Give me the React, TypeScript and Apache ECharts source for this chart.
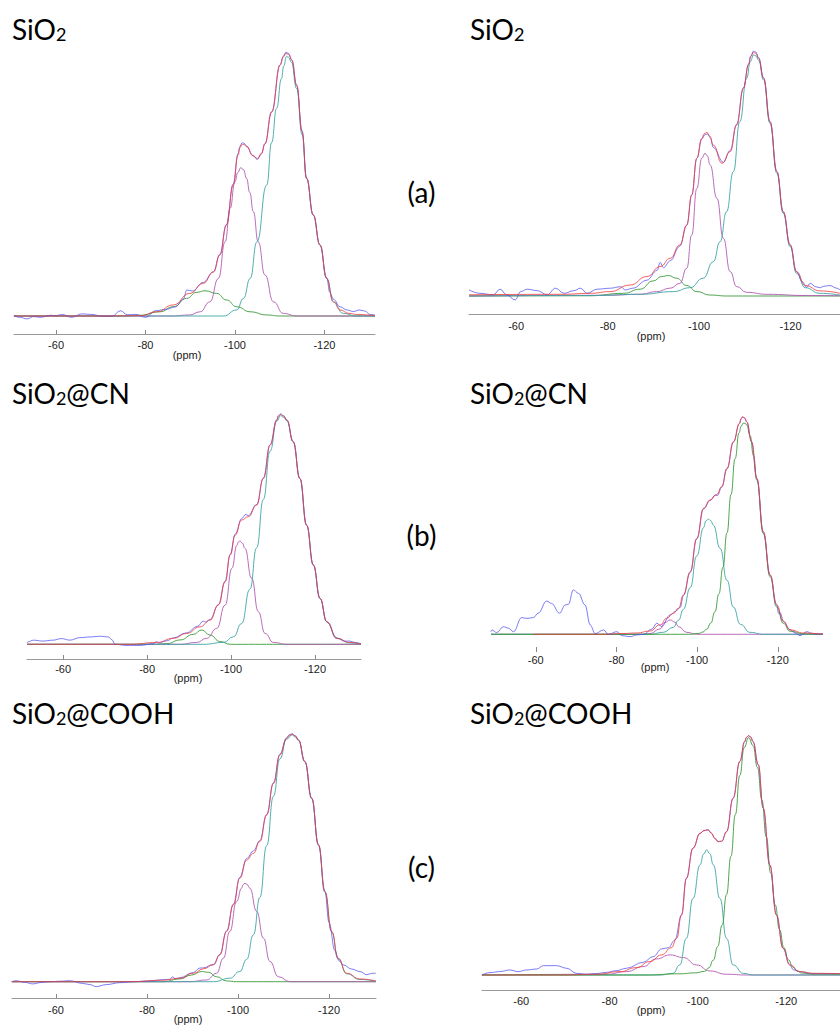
import React, { useEffect, useRef } from "react";
import * as echarts from "echarts";

const ppmTicks = [-60, -80, -100, -120];
const panelTitles = ["SiO₂", "SiO₂", "SiO₂@CN", "SiO₂@CN", "SiO₂@COOH", "SiO₂@COOH"];
const rowLabels = ["(a)", "(b)", "(c)"];
const axisName = "(ppm)";

// ---- Panel 1 (top left) ----
const p1Blue = [[-50.5,0.1],[-52,-0.5],[-53.5,-1.1],[-55,-0.2],[-56.5,-0.5],[-58.8,0.3],[-60,0.1],[-61.3,0.6],[-63.5,-0.5],[-65.7,0.8],[-68,0.6],[-70.3,-0.1],[-72.5,-0.1],[-74.4,2.0],[-75.9,0.5],[-77.8,0.6],[-80,-0.5],[-82.3,2.0],[-84.5,2.5],[-86.7,3.5],[-88.5,6.5],[-89.2,9.9],[-90.5,9.5],[-92.9,12.8],[-95.2,16.8],[-96.6,23.4],[-98.1,34.8],[-99.6,50.2],[-100.7,61.8],[-101.1,64.5],[-101.6,65.9],[-102.1,65.6],[-102.6,64.6],[-104.0,61.0],[-105.0,59.5],[-105.9,61.6],[-106.7,65.4],[-108.2,77.5],[-110.1,95.6],[-110.8,98.8],[-111.4,100.3],[-112.0,99.8],[-112.7,97.4],[-113.8,87.6],[-115.0,70.5],[-116.0,52.5],[-117.5,38.4],[-119.0,27.0],[-120.5,14.6],[-121.2,9.0],[-122.0,6.4],[-123.5,3.5],[-125,2.3],[-126.5,1.7],[-127.8,2.3],[-129,1.9],[-130.2,0.6],[-131.3,0.3]];
const p1Fit = [[-50.6,0],[-70,0],[-78.8,0.1],[-82.5,1.6],[-86.2,4.2],[-89.9,8.6],[-92.9,12.4],[-95.2,16.8],[-96.6,23.2],[-98.1,34.6],[-99.6,49.8],[-100.7,61.2],[-101.1,64.0],[-101.6,65.3],[-102.1,65.1],[-102.6,64.4],[-104.0,61.0],[-105.0,59.9],[-105.9,61.8],[-106.7,65.6],[-108.2,77.7],[-110.1,95.4],[-110.8,98.5],[-111.4,99.8],[-112.0,99.5],[-112.7,97.3],[-113.8,87.8],[-115.0,70.0],[-116.0,52.3],[-117.5,38.4],[-119.0,27.0],[-120.5,14.3],[-122.0,5.4],[-123.5,2.3],[-125.5,1.0],[-127.2,0.6],[-131.3,0.1]];
const p1Q2 = [[-50.6,0],[-75,0],[-78.8,0.3],[-83.2,1.6],[-86.2,3.5],[-89.2,6.7],[-91.4,9.0],[-93.3,9.6],[-95.9,8.6],[-98.1,6.1],[-100.4,3.5],[-103.4,1.6],[-107.1,0.4],[-110.1,0],[-131.3,0]];
const p1Q3 = [[-50.6,0],[-86,0],[-89.9,0.4],[-92.2,1.6],[-94.4,5.4],[-96.3,14.3],[-97.8,28.2],[-98.9,40.9],[-100.0,51.0],[-100.6,54.5],[-101.3,56.4],[-101.9,55.6],[-102.6,52.3],[-103.3,47.0],[-104.1,39.7],[-105.2,28.2],[-106.7,15.6],[-108.6,5.4],[-110.8,1.0],[-113.8,0],[-131.3,0]];
const p1Q4 = [[-50.6,0],[-97.4,0],[-100.4,2.3],[-101.9,6.7],[-103.4,14.3],[-104.9,28.2],[-107.1,49.8],[-108.2,66],[-109.3,79],[-110.4,90.3],[-110.9,95.0],[-111.5,98.6],[-112.0,98.4],[-112.6,96.5],[-113.8,86.5],[-115.0,69.0],[-116.0,52.3],[-117.5,38.4],[-119.0,27.0],[-120.5,14.3],[-122.0,5.4],[-124.2,1.0],[-127.2,0],[-131.3,0]];

// ---- Panel 2 (top right) ----
const p2Blue = [[-49.7,2.5],[-52.1,1.1],[-55.0,0.5],[-56.5,2.8],[-57.9,0.5],[-59.8,-1.6],[-61.0,1.8],[-62.4,2.8],[-64.6,2.2],[-66.8,0.5],[-68.6,3.2],[-70.5,1.1],[-72.6,2.2],[-74.1,3.2],[-75.5,1.1],[-77.7,2.8],[-80.6,3.2],[-82.8,3.8],[-83.9,2.5],[-85.5,3.2],[-88.6,6.5],[-90.8,10.5],[-91.5,13.8],[-92.2,11.6],[-93.7,14.5],[-95.8,20.5],[-97.3,29.0],[-98.4,41.5],[-99.5,56.5],[-100.6,64.5],[-101.3,66.3],[-101.9,66.5],[-102.5,64.8],[-103.1,61.0],[-105.3,54.9],[-106.8,59.8],[-108.2,70.5],[-109.7,85.5],[-110.8,95.2],[-111.3,98.6],[-111.9,100.6],[-112.4,100.2],[-113.0,98.0],[-114.1,89.6],[-115.5,71.6],[-117.0,51.1],[-118.4,34.6],[-119.9,21.0],[-121.3,10.0],[-122.5,6.0],[-123.5,3.6],[-124.3,5.2],[-125.5,3.8],[-126.5,3.4],[-127.2,4.0],[-128.6,4.3],[-130.1,3.2],[-130.8,2.5]];
const p2Fit = [[-49.7,0.5],[-70,0.7],[-76.2,1.1],[-80.5,1.8],[-84.9,4.5],[-88.6,8.0],[-91.5,12.1],[-93.7,15.5],[-95.8,21.0],[-97.3,29.2],[-98.4,41.5],[-99.5,56.6],[-100.6,64.8],[-101.1,66.6],[-101.7,67.2],[-102.3,65.7],[-103.1,62.0],[-105.0,54.5],[-106.8,59.3],[-108.2,70.2],[-109.7,85.3],[-110.8,94.9],[-111.3,98.3],[-111.9,100.1],[-112.4,99.6],[-113.0,97.6],[-114.1,89.4],[-115.5,71.6],[-117.0,51.1],[-118.4,34.6],[-119.9,21.0],[-121.3,10.0],[-123.2,4.3],[-126.4,2.1],[-130.8,1.1]];
const p2Q2 = [[-49.7,0],[-76,0.1],[-83.5,1.1],[-87.1,2.8],[-90.0,6.2],[-91.8,8.0],[-93.3,8.4],[-95.1,7.3],[-97.3,4.3],[-99.5,1.8],[-102.4,0.4],[-106,0],[-130.8,0]];
const p2Q3 = [[-49.7,0],[-80,0.3],[-87.1,0.7],[-90.7,1.8],[-93.7,3.2],[-95.8,5.2],[-97.3,11.4],[-98.4,25.1],[-99.5,44.2],[-100.6,56.6],[-101.3,58.6],[-101.8,57.6],[-102.4,53.8],[-103.9,40.1],[-105.3,23.7],[-106.8,10.0],[-108.2,3.9],[-110.4,1.5],[-114.8,0.7],[-123.5,0.2],[-130.8,0.1]];
const p2Q4 = [[-49.7,0],[-76.2,0.2],[-87.1,0.7],[-94.4,1.8],[-98.0,3.4],[-100.9,7.3],[-103.1,14.1],[-104.6,22.3],[-106.0,34.6],[-107.5,51.1],[-108.9,71.6],[-110.4,89.4],[-111.2,96.3],[-111.9,99.0],[-112.4,98.6],[-113.0,96.9],[-114.1,88.7],[-115.5,70.9],[-117.0,50.4],[-118.4,33.9],[-119.9,20.3],[-121.3,9.3],[-123.2,3.4],[-126.4,1.1],[-130.8,0.4]];

// ---- Panel 3 (middle left) ----
const p3Blue = [[-51.4,0.6],[-51.7,1.1],[-52.9,1.8],[-55.2,1.4],[-57.6,1.8],[-59.6,2.5],[-61.6,1.8],[-64.0,2.9],[-66.4,3.2],[-68.8,3.5],[-70.8,3.2],[-71.6,2.0],[-72.4,0],[-75.2,-0.5],[-78.3,-0.5],[-81.5,0.3],[-82.3,1.2],[-82.7,0.6],[-84.7,1.5],[-86.3,2.8],[-89.4,5.0],[-92.0,7.8],[-93.4,10.1],[-94.0,9.6],[-95.0,10.8],[-97.0,17.3],[-98.6,27.5],[-99.8,39.2],[-101.0,48.0],[-102.5,54.6],[-103.5,56.5],[-104.1,55.9],[-106.1,60.8],[-107.7,72.3],[-109.3,86.8],[-110.9,97.6],[-111.3,99.4],[-111.8,100.2],[-112.5,99.4],[-113.3,97.6],[-114.8,88.1],[-116.4,72.1],[-118.0,51.8],[-119.6,34.5],[-121.2,20.0],[-122.8,9.8],[-125.2,2.8],[-127.0,1.4],[-128.3,1.4],[-129.5,0.8],[-130.95,0.2]];
const p3Fit = [[-51.4,0],[-76,0],[-82.3,0.8],[-86.3,2.6],[-89.4,4.7],[-92.6,7.6],[-95.0,10.5],[-97.0,17.1],[-98.6,27.2],[-99.8,38.8],[-101.0,47.5],[-102.5,54.0],[-104.1,55.5],[-106.1,60.5],[-107.7,72.1],[-109.3,86.6],[-110.9,97.5],[-111.3,99.3],[-111.8,99.9],[-112.5,99.2],[-113.3,97.5],[-114.8,88.1],[-116.4,72.1],[-118.0,51.8],[-119.6,34.5],[-121.2,20.0],[-122.8,9.8],[-125.2,2.6],[-128.3,0.8],[-130.95,0]];
const p3Q2 = [[-51.4,0],[-82,0],[-84.7,0.3],[-87.9,1.9],[-91.0,4.3],[-93.0,6.2],[-95.0,4.0],[-97.4,1.2],[-99.8,0],[-130.95,0]];
const p3Q3 = [[-51.4,0],[-87.9,0],[-91.8,0.8],[-94.2,2.6],[-96.6,6.9],[-98.6,17.1],[-100.2,33.0],[-101.4,43.1],[-101.7,44.4],[-102.1,44.9],[-102.7,44.0],[-103.3,41.7],[-104.9,28.7],[-106.5,14.2],[-108.1,4.7],[-110.1,0.8],[-113.3,0],[-130.95,0]];
const p3Q4 = [[-51.4,0],[-93.4,0],[-98.2,0.8],[-100.6,3.3],[-102.5,9],[-104.5,24],[-106.1,42],[-107.7,63],[-109.3,84],[-110.9,97],[-111.8,99.4],[-112.5,98.7],[-113.3,97.2],[-114.8,88.0],[-116.4,72.0],[-118.0,51.7],[-119.6,34.4],[-121.2,19.9],[-122.8,9.7],[-125.2,2.5],[-128.3,0.6],[-130.95,0]];

// ---- Panel 4 (middle right) ----
const p4Blue = [[-48.9,1.2],[-49.1,2.0],[-50.3,0.8],[-52.0,3.5],[-53.2,2.8],[-54.5,1.2],[-56.5,7.7],[-57.8,7.3],[-59.4,7.7],[-60.6,9.7],[-62.7,15.3],[-63.9,14.2],[-65.9,9.7],[-67.3,13.5],[-68.1,13.8],[-69.3,20.4],[-70.6,18.8],[-72.2,13.5],[-73.5,4.3],[-74.7,0.3],[-76.8,2.0],[-78.0,0],[-80.1,1.2],[-81.3,-0.6],[-83.4,-1.1],[-85.0,-0.3],[-86.7,0],[-88.8,2.4],[-90.0,5.1],[-91.2,3.6],[-93.3,8.9],[-94.5,10.4],[-95.8,12.3],[-96.6,17.8],[-98.3,28.5],[-99.9,43.8],[-101.6,57.6],[-103.2,61.5],[-104.5,64.0],[-105.0,63.7],[-106.1,67.6],[-107.4,76.0],[-109.0,88.3],[-110.5,96.8],[-110.9,99.0],[-111.3,99.8],[-111.8,99.3],[-112.3,97.6],[-113.5,88.4],[-114.8,71.6],[-116.4,47.0],[-118.1,27.2],[-119.7,13.8],[-120.2,9.5],[-120.6,9.8],[-121.4,6.0],[-123.0,2.2],[-124.3,0.6],[-125.5,-0.6],[-127.2,1.2],[-128.5,0.4],[-129.7,0],[-131.2,0.3]];
const p4Fit = [[-59.4,0],[-76.8,0],[-80.9,0.3],[-85.0,0.6],[-88.3,1.5],[-90.8,4.3],[-92.5,7.4],[-94.1,9.6],[-95.4,12.0],[-96.6,18.1],[-98.3,28.8],[-99.9,44.1],[-101.6,57.9],[-103.2,61.7],[-104.9,64.3],[-106.1,67.9],[-107.4,76.3],[-109.0,88.5],[-110.5,97.0],[-110.9,99.2],[-111.3,100],[-111.8,99.4],[-112.3,97.7],[-113.5,88.5],[-114.8,71.7],[-116.4,47.2],[-118.1,27.3],[-119.7,13.5],[-121.4,5.8],[-123.0,2.0],[-126.4,0.6],[-131.2,0]];
const p4Q2 = [[-48.9,0],[-86,0],[-88.3,0.3],[-90.8,2.5],[-92.0,5.4],[-93.3,6.6],[-94.5,5.6],[-95.4,3.5],[-97.4,0.9],[-99.9,0],[-131.2,0]];
const p4Q3 = [[-48.9,0],[-88.3,0],[-91.6,0.9],[-94.1,3.2],[-95.4,6.5],[-96.6,11.5],[-98.3,21.5],[-99.9,36],[-101.6,49],[-102.2,52.2],[-102.8,52.9],[-103.4,52.2],[-104.0,50.2],[-105.7,39.5],[-107.4,24.8],[-109.0,12.5],[-110.7,4.6],[-113.1,0.9],[-116.4,0],[-131.2,0]];
const p4Q4 = [[-48.9,0],[-98,0],[-100.4,0.4],[-101.4,1.0],[-102.4,2.4],[-103.4,5.2],[-104.4,10.3],[-105.4,18.6],[-106.4,30.8],[-107.4,46.6],[-108.4,64.2],[-109.4,80.7],[-110.4,92.6],[-110.9,95.6],[-111.4,97],[-111.9,97.0],[-112.3,96.2],[-113.1,91.4],[-114.0,82],[-114.8,70.8],[-116.4,46.3],[-118.1,26.4],[-119.7,12.6],[-121.4,5.0],[-123.0,1.4],[-126.4,0.2],[-131.2,0]];

// ---- Panel 5 (bottom left) ----
const p5Blue = [[-50.3,0],[-51.3,0.4],[-53,-0.2],[-54.9,-0.9],[-56.8,-0.3],[-58.6,0],[-61,0.2],[-63.0,0.4],[-65.9,-0.7],[-67.5,-1.2],[-68.8,-2.0],[-71.0,-1.2],[-74.0,-0.4],[-76.9,0],[-80.5,0.3],[-83.5,0.8],[-85.0,1.0],[-85.6,1.9],[-86.3,1.2],[-87.2,1.6],[-90.2,3.7],[-91.6,5.5],[-92.4,5.6],[-94.6,7.0],[-96.0,11.0],[-97.5,20.6],[-99.0,31.4],[-100.4,42.2],[-101.9,49.8],[-103.4,52.9],[-104.8,57.0],[-106.3,67.6],[-107.8,80.4],[-109.2,91.9],[-110.7,98.6],[-111.3,99.8],[-111.9,100.2],[-112.6,99.4],[-113.3,97.8],[-114.7,89.0],[-116.2,74.2],[-117.7,55.3],[-119.1,36.6],[-120.0,24],[-121.3,12.5],[-122.2,8.5],[-123.1,6.8],[-125.0,5.1],[-126.8,4.1],[-128.3,2.8],[-129.4,3.4],[-130.3,3.4]];
const p5Fit = [[-50.3,0],[-76.3,0],[-83.6,0.6],[-87.2,1.4],[-90.2,3.4],[-92.4,5.2],[-94.6,6.8],[-96.0,10.8],[-97.5,20.3],[-99.0,31.1],[-100.4,41.8],[-101.9,49.2],[-103.4,51.9],[-104.8,56.7],[-106.3,67.4],[-107.8,80.2],[-109.2,91.7],[-110.7,98.4],[-111.3,99.6],[-111.9,100],[-112.6,99.3],[-113.3,97.7],[-114.7,89.0],[-116.2,74.2],[-117.7,55.3],[-119.1,36.4],[-120.6,20.3],[-122.0,9.5],[-123.9,3.4],[-126.8,1.1],[-130.3,0.3]];
const p5Q2 = [[-50.3,0],[-83.6,0],[-87.2,1.1],[-89.8,2.7],[-92.0,4.1],[-93.5,3.8],[-95.3,2.0],[-97.5,0.3],[-99.7,0],[-130.3,0]];
const p5Q3 = [[-50.3,0],[-89.4,0],[-93.1,0.7],[-95.3,3.4],[-96.8,9.5],[-98.2,20.3],[-99.7,32.4],[-100.8,37.8],[-101.1,39.2],[-101.5,39.8],[-102.0,39.3],[-102.6,37.8],[-104.1,28.4],[-105.6,17.6],[-107.0,8.2],[-108.9,2.0],[-111.4,0],[-130.3,0]];
const p5Q4 = [[-50.3,0],[-94.6,0],[-98.2,1.4],[-100.4,4.1],[-101.9,9],[-103.4,19],[-104.8,34],[-106.3,55],[-107.8,75],[-109.2,90],[-110.7,98],[-111.9,99.8],[-112.6,98.9],[-113.3,97.5],[-114.7,88.8],[-116.2,74.0],[-117.7,55.1],[-119.1,36.2],[-120.6,20.1],[-122.0,9.3],[-123.9,3.2],[-126.8,0.9],[-130.3,0.2]];

// ---- Panel 6 (bottom right) ----
const p6Blue = [[-51.0,0],[-52.9,1.0],[-55.1,1.4],[-57.4,2.1],[-59.3,1.4],[-61.2,2.1],[-63.5,2.5],[-65.0,3.9],[-68.0,3.9],[-70.3,2.8],[-72.5,0.7],[-74.8,0.3],[-77,0.6],[-79.3,1.1],[-81.5,1.8],[-83.8,2.8],[-87.6,5.3],[-89.9,7.7],[-91.8,10.9],[-93.3,11.4],[-94.8,14.6],[-96.3,25.1],[-97.4,40.4],[-98.9,53.0],[-100.5,59.2],[-101.4,60.4],[-102.3,60.7],[-103.1,59.3],[-103.8,57.2],[-104.6,55.8],[-105.4,55.9],[-106.5,59.9],[-108.0,73.9],[-109.5,89.2],[-110.6,97.5],[-111.0,99.3],[-111.5,100],[-112.0,99.4],[-112.5,97.5],[-113.7,87.8],[-114.8,69.7],[-116.3,46.0],[-117.8,25.1],[-119.3,11.2],[-120.8,4.4],[-121.6,2.2],[-123.1,1.4],[-126.1,0.6],[-130.6,0.6],[-132.2,0.6]];
const p6Fit = [[-51.1,0],[-69.5,0],[-77.0,0.3],[-82.3,1.4],[-86.1,3.1],[-89.1,5.6],[-91.8,8.4],[-94.0,11.4],[-95.2,15.3],[-96.3,25.1],[-97.4,40.4],[-98.9,53.0],[-100.5,59.2],[-101.4,60.3],[-102.3,60.6],[-103.1,59.2],[-103.8,57.1],[-104.6,55.7],[-105.4,55.9],[-106.5,59.9],[-108.0,73.9],[-109.5,89.2],[-110.6,97.5],[-111.0,99.3],[-111.5,100],[-112.0,99.4],[-112.5,97.5],[-113.7,87.8],[-114.8,69.7],[-116.3,46.0],[-117.8,25.1],[-119.3,11.2],[-120.8,4.2],[-123.1,1.4],[-126.1,0.7],[-132.2,0.6]];
const p6Q2 = [[-51.1,0],[-79.3,0.3],[-83.8,1.4],[-87.6,3.5],[-90.6,6.7],[-93.7,8.4],[-96.7,7.3],[-99.7,4.2],[-102.7,1.7],[-106.5,0.3],[-111.0,0],[-132.2,0]];
const p6Q3 = [[-51.1,0],[-91.4,0],[-94.4,0.7],[-95.9,4.2],[-97.4,15.3],[-98.9,32.0],[-100.5,46.0],[-101.3,50.5],[-102.0,52.3],[-102.7,50.7],[-103.5,46.0],[-105.0,32.0],[-106.5,15.3],[-108.0,4.2],[-110.3,0.7],[-112.5,0],[-132.2,0]];
const p6Q4 = [[-51.1,0],[-88.4,0],[-95.9,0.5],[-99.5,0.9],[-101.5,1.5],[-102.5,3.0],[-103.5,6.2],[-104.5,11.9],[-105.5,20.9],[-106.5,33.6],[-107.5,49.6],[-108.5,67.1],[-109.5,83.4],[-110.5,95.0],[-111.5,99.2],[-112.5,95.9],[-113.5,86.7],[-114.5,73.2],[-115.5,57.7],[-116.5,42.6],[-117.5,29.4],[-118.5,19.0],[-119.5,11.4],[-120.5,6.4],[-121.5,3.4],[-122.5,1.7],[-123.5,0.8],[-126,0.4],[-132.2,0.3]];

const BLUE = "#4a4af2";
const RED = "#f23a3a";
const MAG = "#b25bb2";
const TEAL = "#3ea5a5";
const GREEN = "#3b9a3b";

const panelData = [
  { blue: p1Blue, fit: p1Fit, comps: [[p1Q2, GREEN], [p1Q3, MAG], [p1Q4, TEAL]] },
  { blue: p2Blue, fit: p2Fit, comps: [[p2Q2, GREEN], [p2Q3, MAG], [p2Q4, TEAL]] },
  { blue: p3Blue, fit: p3Fit, comps: [[p3Q2, GREEN], [p3Q3, MAG], [p3Q4, TEAL]] },
  { blue: p4Blue, fit: p4Fit, comps: [[p4Q2, MAG], [p4Q3, TEAL], [p4Q4, GREEN]] },
  { blue: p5Blue, fit: p5Fit, comps: [[p5Q2, GREEN], [p5Q3, MAG], [p5Q4, TEAL]] },
  { blue: p6Blue, fit: p6Fit, comps: [[p6Q2, MAG], [p6Q3, TEAL], [p6Q4, GREEN]] },
];

// layout (pixels) of each panel
const layout = [
  { left: 14, width: 361, top: 53, axisY: 334, xMin: -131.3, xMax: -50.6, yMin: -6.84, line: true, tick: "in", margin: 5.5, name: [187, 355], title: [12, 38] },
  { left: 469, width: 371, top: 52.5, axisY: 314, xMin: -130.8, xMax: -49.7, yMin: -7.39, line: true, tick: "none", margin: 6.5, name: [651, 336], title: [470, 38] },
  { left: 27, width: 334, top: 414.3, axisY: 659, xMin: -130.95, xMax: -51.4, yMin: -6.39, line: true, tick: "in", margin: 4.5, name: [188, 678], title: [12, 401.7] },
  { left: 491, width: 332, top: 416.7, axisY: 647, xMin: -131.2, xMax: -48.9, yMin: -5.84, line: false, tick: "out", margin: 7.5, name: [655, 667], title: [470, 401.7] },
  { left: 12, width: 364, top: 734.3, axisY: 998, xMin: -130.33, xMax: -50.33, yMin: -6.59, line: true, tick: "in", margin: 6.5, name: [188, 1019], title: [12, 721.7] },
  { left: 482, width: 358, top: 735.7, axisY: 990, xMin: -132.2, xMax: -51.1, yMin: -6.27, line: true, tick: "none", margin: 5.5, name: [651, 1010], title: [470, 721.7] },
];
const rowLabelPos = [[421.5, 191.5], [421.5, 535], [421.5, 867]];

const LABEL_FONT = "'Liberation Sans', Arial, sans-serif";
const TITLE_FONT = "Lato, 'Noto Sans', sans-serif";

function buildOption() {
  const grid: any[] = [];
  const xAxis: any[] = [];
  const yAxis: any[] = [];
  const series: any[] = [];
  const graphic: any[] = [];

  layout.forEach((L, i) => {
    grid.push({ left: L.left, top: L.top, width: L.width, height: L.axisY - L.top, containLabel: false });
    xAxis.push({
      gridIndex: i,
      type: "value",
      position: "bottom",
      min: L.xMin,
      max: L.xMax,
      inverse: true,
      axisLine: { show: L.line, onZero: false, lineStyle: { color: "#999999", width: 1 } },
      axisTick: {
        show: L.tick !== "none",
        inside: L.tick === "in",
        length: L.tick === "in" ? 4 : 5,
        customValues: ppmTicks,
        lineStyle: { color: "#888888", width: 1 },
      },
      axisLabel: {
        customValues: ppmTicks,
        fontSize: 11,
        fontFamily: LABEL_FONT,
        color: "#222222",
        margin: L.margin,
      },
      splitLine: { show: false },
    });
    yAxis.push({ gridIndex: i, type: "value", min: L.yMin, max: 100, show: false });

    const P = panelData[i];
    P.comps.forEach(([data, color]: any) => {
      series.push({
        type: "line", xAxisIndex: i, yAxisIndex: i, data, showSymbol: false, clip: false,
        smooth: 0.5, smoothMonotone: "x",
        lineStyle: { color, width: 1, opacity: 0.9 },
      });
    });
    series.push({
      type: "line", xAxisIndex: i, yAxisIndex: i, data: P.blue, showSymbol: false, clip: false,
      smooth: 0.4, smoothMonotone: "x", lineStyle: { color: BLUE, width: 1, opacity: 0.72 },
    });
    series.push({
      type: "line", xAxisIndex: i, yAxisIndex: i, data: P.fit, showSymbol: false, clip: false,
      smooth: 0.5, smoothMonotone: "x", lineStyle: { color: RED, width: 1, opacity: 0.8 },
    });

    graphic.push({
      type: "text", x: L.name[0], y: L.name[1],
      style: { text: axisName, fontSize: 11, fontFamily: LABEL_FONT, fill: "#222222", align: "center", verticalAlign: "middle" },
    });
    const rich = "{a|" + panelTitles[i].replace("₂", "}{b|2}{a|") + "}";
    graphic.push({
      type: "text", x: L.title[0], y: L.title[1] - 23,
      style: {
        text: rich, fill: "#000", align: "left", verticalAlign: "top",
        rich: {
          a: { fontSize: 28, fontFamily: TITLE_FONT, lineHeight: 28, verticalAlign: "bottom", fill: "#000" },
          b: { fontSize: 18, fontFamily: TITLE_FONT, lineHeight: 18, verticalAlign: "bottom", fill: "#000" },
        },
      },
    });
  });

  rowLabels.forEach((t, r) => {
    graphic.push({
      type: "text", x: rowLabelPos[r][0], y: rowLabelPos[r][1],
      style: { text: t, fontSize: 28, fontFamily: TITLE_FONT, fill: "#000", align: "center", verticalAlign: "middle" },
    });
  });

  return { animation: false, backgroundColor: "#ffffff", grid, xAxis, yAxis, series, graphic };
}

export default function App() {
  const ref = useRef<HTMLDivElement>(null);
  useEffect(() => {
    if (!ref.current) return;
    const chart = echarts.init(ref.current, undefined, { renderer: "svg" });
    chart.setOption(buildOption() as any);
    return () => chart.dispose();
  }, []);
  return <div ref={ref} style={{ position: "fixed", left: 0, top: 0, width: 840, height: 1025 }} />;
}
